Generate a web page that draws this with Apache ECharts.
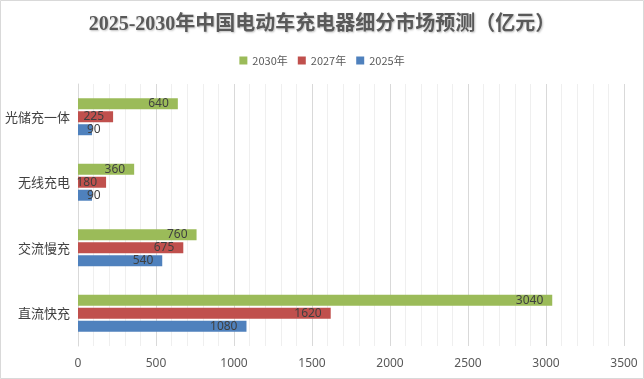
<!DOCTYPE html>
<html><head><meta charset="utf-8">
<script src="https://cdn.jsdelivr.net/npm/echarts@6/dist/echarts.min.js"></script>
<style>html,body{margin:0;padding:0;background:#fff}#c{width:644px;height:379px}</style>
</head><body><div id="c"></div>
<script>
const categories = ['直流快充','交流慢充','无线充电','光储充一体'];
const seriesNames = ['2030年','2027年','2025年'];
const v2030 = [3040, 760, 360, 640];
const v2027 = [1620, 675, 180, 225];
const v2025 = [1080, 540, 90, 90];
const xTicks = [0, 500, 1000, 1500, 2000, 2500, 3000, 3500];
const colors = ['#9BBB59','#C0504D','#4F81BD'];
const values = [v2030, v2027, v2025];

const chart = echarts.init(document.getElementById('c'));
chart.setOption({
  backgroundColor:'#fff',
  animation:false,
  title:{text:'2025-2030年中国电动车充电器细分市场预测（亿元）',left:'center',top:10,
    textStyle:{fontSize:20,fontWeight:'bold',color:'#595959',fontFamily:"'Liberation Serif','Noto Sans CJK SC',serif",
    textShadowColor:'rgba(0,0,0,0.25)',textShadowBlur:2,textShadowOffsetX:1,textShadowOffsetY:1}},
  legend:{data:seriesNames,top:50,left:'center',itemWidth:8,itemHeight:8,itemGap:10,icon:'rect',
    textStyle:{fontSize:11,color:'#595959',fontFamily:"'Noto Sans CJK SC',sans-serif"}},
  graphic:[{type:'rect',shape:{x:0.5,y:0.5,width:643,height:378},style:{fill:'none',stroke:'#d9d9d9',lineWidth:1},silent:true}],
  grid:{left:78,right:20,top:84,bottom:33},
  xAxis:{type:'value',min:xTicks[0],max:xTicks[xTicks.length-1],interval:500,
    axisLine:{show:false},axisTick:{show:false},
    axisLabel:{color:'#595959',fontSize:12,margin:12,formatter:v=>String(v),fontFamily:"'Noto Sans','DejaVu Sans',sans-serif"},
    splitLine:{show:true,lineStyle:{color:'#d9d9d9'}},
    minorTick:{show:false,splitNumber:5},
    minorSplitLine:{show:true,lineStyle:{color:'#efefef'}}},
  yAxis:{type:'category',data:categories,
    axisLine:{show:true,lineStyle:{color:'#d9d9d9'}},axisTick:{show:false},
    axisLabel:{color:'#404040',fontSize:13,margin:8,fontFamily:"'Noto Sans CJK SC',sans-serif"}},
  series: seriesNames.map((n,i)=>({
    name:n,type:'bar',barWidth:11,barGap:'18%',barCategoryGap:'43%',
    data:values[i].map(v=>v<150?{value:v,label:{position:'insideLeft',distance:9}}:v),
    itemStyle:{color:colors[i]},
    label:{show:true,position:'insideRight',distance:9,color:'#404040',fontSize:12,
      fontFamily:"'Noto Sans','DejaVu Sans',sans-serif"}
  }))
});
</script></body></html>
